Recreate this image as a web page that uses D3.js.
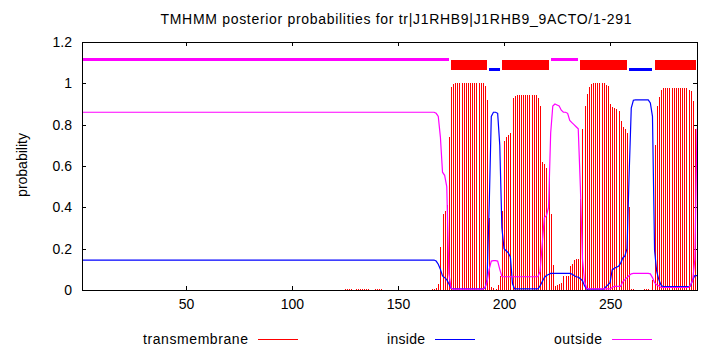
<!DOCTYPE html>
<html>
<head>
<meta charset="utf-8">
<script src="https://cdn.jsdelivr.net/npm/d3@7"></script>
<style>
  body { margin: 0; background: #fff; }
  text { font-family: "Liberation Sans", Arial, sans-serif; font-size: 14px; fill: #000; }
</style>
</head>
<body>
<div id="tmhmm-plot"></div>
<script>

// posterior probabilities per residue (1..291)
var tmProb = [
  0,0,0,0,0,0,0,0,0,0, 0,0,0,0,0,0,0,0,0,0,          // 1-20
  0,0,0,0,0,0,0,0,0,0, 0,0,0,0,0,0,0,0,0,0,          // 21-40
  0,0,0,0,0,0,0,0,0,0, 0,0,0,0,0,0,0,0,0,0,          // 41-60
  0,0,0,0,0,0,0,0,0,0, 0,0,0,0,0,0,0,0,0,0,          // 61-80
  0,0,0,0,0,0,0,0,0,0, 0,0,0,0,0,0,0,0,0,0,          // 81-100
  0,0,0,0,0,0,0,0,0,0, 0,0,0,0,0,0,0,0,0,0,          // 101-120
  0,0,0,0,0.004,0.004,0.004,0.004,0,0.004,                                    // 121-130
  0.004,0.004,0.004,0.004,0.004,0.004,0,0,0.004,0.004,                        // 131-140
  0.004,0.004,0,0,0,0,0,0,0,0,                                                // 141-150
  0,0,0,0,0,0,0,0,0,0,                                                        // 151-160
  0,0,0,0,0,0.003,0.005,0.01,0.03,0.21,                                       // 161-170
  0.37,0.38,0.41,0.74,0.98,0.995,1,1,1,1,                                     // 171-180
  1,1,1,1,1,1,1,1,1,1,                                                        // 181-190
  0.985,0.92,0.35,0.015,0.008,0.004,0.025,0.07,0.38,0.72,                     // 191-200
  0.74,0.75,0.76,0.93,0.94,0.945,0.945,0.945,0.945,0.945,                     // 201-210
  0.945,0.945,0.945,0.945,0.945,0.93,0.89,0.62,0.61,0.59,                     // 211-220
  0.56,0.37,0.12,0.02,0.024,0.027,0.032,0.068,0.068,0.068,                    // 221-230
  0.117,0.124,0.145,0.15,0.15,0.44,0.78,0.89,0.95,0.98,                       // 231-240
  0.995,1,1,1,1,1,1,0.99,0.985,0.9,                                           // 241-250
  0.887,0.88,0.875,0.865,0.82,0.79,0.78,0.76,0.4,0.004,                       // 251-260
  0.004,0,0,0,0,0.004,0.004,0.004,0,0.05,                                     // 261-270
  0.7,0.89,0.935,0.968,0.976,0.976,0.976,0.976,0.976,0.976,                   // 271-280
  0.976,0.976,0.976,0.976,0.976,0.976,0.97,0.963,0.914,0.78,                  // 281-290
  0.15                                                                        // 291
];

var insideProb = [
  0.145,0.145,0.145,0.145,0.145,0.145,0.145,0.145,0.145,0.145, 0.145,0.145,0.145,0.145,0.145,0.145,0.145,0.145,0.145,0.145,  // 1-20
  0.145,0.145,0.145,0.145,0.145,0.145,0.145,0.145,0.145,0.145, 0.145,0.145,0.145,0.145,0.145,0.145,0.145,0.145,0.145,0.145,  // 21-40
  0.145,0.145,0.145,0.145,0.145,0.145,0.145,0.145,0.145,0.145, 0.145,0.145,0.145,0.145,0.145,0.145,0.145,0.145,0.145,0.145,  // 41-60
  0.145,0.145,0.145,0.145,0.145,0.145,0.145,0.145,0.145,0.145, 0.145,0.145,0.145,0.145,0.145,0.145,0.145,0.145,0.145,0.145,  // 61-80
  0.145,0.145,0.145,0.145,0.145,0.145,0.145,0.145,0.145,0.145, 0.145,0.145,0.145,0.145,0.145,0.145,0.145,0.145,0.145,0.145,  // 81-100
  0.145,0.145,0.145,0.145,0.145,0.145,0.145,0.145,0.145,0.145, 0.145,0.145,0.145,0.145,0.145,0.145,0.145,0.145,0.145,0.145,  // 101-120
  0.145,0.145,0.145,0.145,0.145,0.145,0.145,0.145,0.145,0.145, 0.145,0.145,0.145,0.145,0.145,0.145,0.145,0.145,0.145,0.145,  // 121-140
  0.145,0.145,0.145,0.145,0.145,0.145,0.145,0.145,0.145,0.145, 0.145,0.145,0.145,0.145,0.145,0.145,0.145,0.145,0.145,0.145,  // 141-160
  0.145,0.145,0.145,0.145,0.145,0.145,0.145,0.14,0.125,0.1,                   // 161-170
  0.068,0.06,0.05,0.03,0.008,0.005,0.005,0.005,0.005,0.005,                   // 171-180
  0.005,0.005,0.005,0.005,0.005,0.005,0.005,0.005,0.005,0.005,                // 181-190
  0.008,0.05,0.4,0.84,0.86,0.86,0.855,0.7,0.3,0.2,                            // 191-200
  0.19,0.18,0.16,0.03,0.005,0.005,0.005,0.005,0.005,0.005,                    // 201-210
  0.005,0.005,0.005,0.005,0.005,0.005,0.02,0.04,0.06,0.07,                    // 211-220
  0.075,0.08,0.08,0.08,0.08,0.08,0.08,0.08,0.08,0.08,                         // 221-230
  0.08,0.077,0.07,0.064,0.062,0.055,0.045,0.02,0.004,0.004,                   // 231-240
  0.004,0.004,0.004,0.004,0.004,0.004,0.004,0.015,0.025,0.035,                // 241-250
  0.097,0.105,0.11,0.115,0.13,0.155,0.165,0.2,0.56,0.88,                      // 251-260
  0.918,0.92,0.92,0.92,0.92,0.92,0.92,0.92,0.905,0.84,                        // 261-270
  0.19,0.09,0.05,0.025,0.016,0.016,0.016,0.016,0.016,0.016,                   // 271-280
  0.016,0.016,0.016,0.016,0.016,0.016,0.016,0.02,0.05,0.07,                   // 281-290
  0.07                                                                        // 291
];

var outsideProb = [
  0.86,0.86,0.86,0.86,0.86,0.86,0.86,0.86,0.86,0.86, 0.86,0.86,0.86,0.86,0.86,0.86,0.86,0.86,0.86,0.86,   // 1-20
  0.86,0.86,0.86,0.86,0.86,0.86,0.86,0.86,0.86,0.86, 0.86,0.86,0.86,0.86,0.86,0.86,0.86,0.86,0.86,0.86,   // 21-40
  0.86,0.86,0.86,0.86,0.86,0.86,0.86,0.86,0.86,0.86, 0.86,0.86,0.86,0.86,0.86,0.86,0.86,0.86,0.86,0.86,   // 41-60
  0.86,0.86,0.86,0.86,0.86,0.86,0.86,0.86,0.86,0.86, 0.86,0.86,0.86,0.86,0.86,0.86,0.86,0.86,0.86,0.86,   // 61-80
  0.86,0.86,0.86,0.86,0.86,0.86,0.86,0.86,0.86,0.86, 0.86,0.86,0.86,0.86,0.86,0.86,0.86,0.86,0.86,0.86,   // 81-100
  0.86,0.86,0.86,0.86,0.86,0.86,0.86,0.86,0.86,0.86, 0.86,0.86,0.86,0.86,0.86,0.86,0.86,0.86,0.86,0.86,   // 101-120
  0.86,0.86,0.86,0.86,0.86,0.86,0.86,0.86,0.86,0.86, 0.86,0.86,0.86,0.86,0.86,0.86,0.86,0.86,0.86,0.86,   // 121-140
  0.86,0.86,0.86,0.86,0.86,0.86,0.86,0.86,0.86,0.86, 0.86,0.86,0.86,0.86,0.86,0.86,0.86,0.86,0.86,0.86,   // 141-160
  0.86,0.86,0.86,0.86,0.86,0.86,0.86,0.855,0.84,0.74,                         // 161-170
  0.57,0.555,0.5,0.08,0.01,0.004,0.004,0.004,0.004,0.004,                     // 171-180
  0.004,0.004,0.004,0.004,0.004,0.004,0.004,0.004,0.004,0.004,                // 181-190
  0.01,0.04,0.1,0.14,0.142,0.142,0.14,0.1,0.065,0.064,                        // 191-200
  0.064,0.064,0.064,0.064,0.064,0.064,0.064,0.064,0.064,0.064,                // 201-210
  0.064,0.064,0.064,0.064,0.064,0.064,0.09,0.22,0.35,0.36,                    // 211-220
  0.4,0.76,0.89,0.9,0.895,0.89,0.87,0.86,0.86,0.855,                          // 221-230
  0.82,0.81,0.8,0.79,0.78,0.5,0.15,0.04,0.008,0.005,                          // 231-240
  0.005,0.005,0.005,0.005,0.005,0.005,0.005,0.005,0.005,0.005,                // 241-250
  0.012,0.018,0.018,0.018,0.018,0.04,0.05,0.06,0.07,0.078,                    // 251-260
  0.08,0.08,0.08,0.08,0.08,0.08,0.08,0.08,0.078,0.06,                         // 261-270
  0.035,0.025,0.02,0.012,0.012,0.012,0.012,0.012,0.012,0.012,                 // 271-280
  0.012,0.012,0.012,0.012,0.012,0.012,0.012,0.025,0.05,0.15,                  // 281-290
  0.78                                                                        // 291
];

// predicted topology
var topoType  = ["outside", "TMhelix", "inside", "TMhelix", "outside", "TMhelix", "inside", "TMhelix"];
var topoStart = [1, 175, 193, 199, 222, 236, 259, 271];
var topoEnd   = [174, 192, 198, 221, 235, 258, 270, 291];

var xTicks = [50, 100, 150, 200, 250];
var yTicks = [0, 0.2, 0.4, 0.6, 0.8, 1, 1.2];
var seqLength = 291;
var titleText = "TMHMM posterior probabilities for tr|J1RHB9|J1RHB9_9ACTO/1-291";

var legendNames = ["transmembrane", "inside", "outside"];
var colors = {transmembrane: "#ff0000", inside: "#0000ff", outside: "#ff00ff"};

var margin = {top: 42, right: 13, bottom: 60, left: 82},
    width = 710 - margin.left - margin.right,
    height = 350 - margin.top - margin.bottom;

var svg = d3.select("#tmhmm-plot")
    .append("svg")
    .attr("width", 710)
    .attr("height", 350);

var x = d3.scaleLinear().domain([1, seqLength]).range([margin.left, margin.left + width]);
var y = d3.scaleLinear().domain([0, 1.2]).range([margin.top + height, margin.top]);

// axes, gnuplot style: inward ticks, mirrored
function styleAxis(g){
    g.select(".domain").remove();
    g.selectAll("line").attr("stroke", "#000").attr("shape-rendering", "crispEdges");
    g.selectAll("text").attr("font-size", 14).attr("font-family", "Liberation Sans, Arial, sans-serif").attr("fill", "#000");
}

svg.append("g")
    .attr("transform", "translate(0," + y(0) + ")")
    .call(d3.axisBottom(x).tickValues(xTicks).tickSize(-4).tickPadding(9))
    .call(styleAxis);

svg.append("g")
    .attr("transform", "translate(0," + y(1.2) + ")")
    .call(d3.axisTop(x).tickValues(xTicks).tickSize(-4).tickFormat(""))
    .call(styleAxis);

svg.append("g")
    .attr("transform", "translate(" + x(1) + ",0)")
    .call(d3.axisLeft(y).tickValues(yTicks).tickSize(-4).tickPadding(10).tickFormat(d3.format("")))
    .call(styleAxis);

svg.append("g")
    .attr("transform", "translate(" + x(seqLength) + ",0)")
    .call(d3.axisRight(y).tickValues(yTicks).tickSize(-4).tickFormat(""))
    .call(styleAxis);

// transmembrane impulses
var residues = d3.range(1, seqLength + 1);

svg.append("g")
    .selectAll("line")
    .data(residues.filter(function(r){ return tmProb[r - 1] > 0; }))
    .enter()
    .append("line")
      .attr("x1", function(r){ return Math.round(x(r)) + 0.5; })
      .attr("x2", function(r){ return Math.round(x(r)) + 0.5; })
      .attr("y1", y(0))
      .attr("y2", function(r){ return y(tmProb[r - 1]); })
      .attr("stroke", colors.transmembrane)
      .attr("stroke-width", 1)
      .attr("shape-rendering", "crispEdges");

var line = d3.line()
    .x(function(d, i){ return x(i + 1); })
    .y(function(d){ return y(d); });

svg.append("path")
    .datum(insideProb)
    .attr("d", line)
    .attr("fill", "none")
    .attr("stroke", colors.inside)
    .attr("stroke-width", 1.2);

svg.append("path")
    .datum(outsideProb)
    .attr("d", line)
    .attr("fill", "none")
    .attr("stroke", colors.outside)
    .attr("stroke-width", 1.2);

// topology bar above the curves
var topo = topoType.map(function(t, i){ return {type: t, start: topoStart[i], end: topoEnd[i]}; });

svg.append("g")
    .selectAll("rect")
    .data(topo)
    .enter()
    .append("rect")
      .attr("x", function(d){ return x(d.start); })
      .attr("width", function(d){ return Math.min(x(d.end), x(seqLength) - 1) - x(d.start); })
      .attr("y", function(d){
          if (d.type == "TMhelix") return y(1.113);
          if (d.type == "inside") return y(1.068) - 1.5;
          return y(1.113) - 1.5;
      })
      .attr("height", function(d){ return d.type == "TMhelix" ? y(1.066) - y(1.113) : 3; })
      .attr("fill", function(d){ return d.type == "TMhelix" ? colors.transmembrane : colors[d.type]; })
      .attr("shape-rendering", "crispEdges");

// frame
svg.append("rect")
    .attr("x", x(1) + 0.5)
    .attr("y", y(1.2) + 0.5)
    .attr("width", x(seqLength) - x(1))
    .attr("height", y(0) - y(1.2))
    .attr("fill", "none")
    .attr("stroke", "#000")
    .attr("shape-rendering", "crispEdges");

// title + y label
svg.append("text")
    .attr("x", 396)
    .attr("y", 24)
    .attr("text-anchor", "middle")
    .attr("textLength", 471)
    .attr("lengthAdjust", "spacing")
    .text(titleText);

svg.append("text")
    .attr("transform", "translate(27,165) rotate(-90)")
    .attr("text-anchor", "middle")
    .text("probability");

// legend
var legendTextEnd = [248, 425, 602];
var legendTextWidth = [105, 38, 48];
var legend = svg.append("g")
    .selectAll("g")
    .data(legendNames)
    .enter()
    .append("g")
      .attr("transform", function(d, i){ return "translate(" + legendTextEnd[i] + ",344)"; });

legend.append("text")
    .attr("text-anchor", "end")
    .attr("textLength", function(d, i){ return legendTextWidth[i]; })
    .attr("lengthAdjust", "spacing")
    .text(function(d){ return d; });

legend.append("line")
    .attr("x1", 10).attr("x2", 50)
    .attr("y1", -4.5).attr("y2", -4.5)
    .attr("stroke", function(d){ return colors[d]; })
    .attr("shape-rendering", "crispEdges");

</script>
</body>
</html>
